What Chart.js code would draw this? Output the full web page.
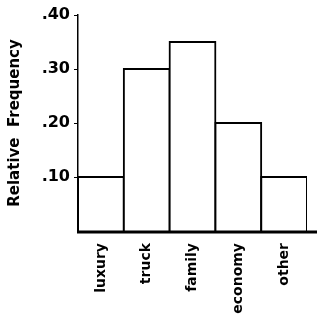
<!DOCTYPE html>
<html>
<head>
<meta charset="utf-8">
<script src="https://cdn.jsdelivr.net/npm/chart.js@4"></script>
<style>
  html, body { margin: 0; padding: 0; background: #fff; }
  #wrap { width: 321px; height: 319px; }
</style>
</head>
<body>
<div id="wrap"><canvas id="freq"></canvas></div>
<script>
  // relative frequency of car types
  const categories = ['luxury', 'truck', 'family', 'economy', 'other'];
  const relFreq = [0.10, 0.30, 0.35, 0.20, 0.10];
  const yTicks = [0.10, 0.20, 0.30, 0.40];

  const fontFam = '"DejaVu Sans", Verdana, sans-serif';

  // x axis line runs a bit past the last bar, like the original
  const axisTail = {
    id: 'axisTail',
    afterDraw(chart) {
      const a = chart.chartArea;
      const c = chart.ctx;
      c.save();
      c.strokeStyle = '#000';
      c.lineWidth = 3;
      c.beginPath();
      c.moveTo(a.left - 1, a.bottom + 1);
      c.lineTo(a.right + 10, a.bottom + 1);
      c.stroke();
      c.restore();
    }
  };

  const ctx = document.getElementById('freq');
  const chart = new Chart(ctx, {
    type: 'bar',
    data: {
      labels: categories,
      datasets: [{
        label: 'Relative Frequency',
        data: relFreq,
        backgroundColor: '#ffffff',
        borderColor: '#000000',
        borderWidth: 2,
        inflateAmount: 1,
        borderSkipped: 'bottom',
        categoryPercentage: 1.0,
        barPercentage: 1.0
      }]
    },
    options: {
      responsive: true,
      maintainAspectRatio: false,
      animation: false,
      layout: { padding: { top: 15, right: 14, left: 0, bottom: 0 } },
      plugins: {
        legend: { display: false },
        tooltip: { enabled: false }
      },
      scales: {
        x: {
          grid: { display: false },
          border: { display: false },
          ticks: {
            color: '#000',
            font: { family: fontFam, size: 14, weight: 'bold' },
            minRotation: 90,
            maxRotation: 90,
            padding: 4
          },
          afterFit: function (scale) { scale.height = 88; }
        },
        y: {
          min: 0,
          max: 0.40,
          afterBuildTicks: function (scale) {
            scale.ticks = yTicks.map(v => ({ value: v }));
          },
          grid: {
            drawOnChartArea: false,
            drawTicks: true,
            tickLength: 4,
            color: '#000',
            lineWidth: 1
          },
          border: { display: true, color: '#000', width: 1.5 },
          ticks: {
            color: '#000',
            padding: 4,
            font: { family: fontFam, size: 16, weight: 'bold' },
            callback: function (v) { return v.toFixed(2).replace(/^0/, ''); }
          },
          title: {
            display: true,
            text: 'Relative  Frequency',
            color: '#000',
            font: { family: fontFam, size: 15, weight: 'bold' },
            padding: { top: 6, bottom: 8 }
          },
          afterFit: function (scale) { scale.width = 78; }
        }
      }
    },
    plugins: [axisTail]
  });
</script>
</body>
</html>
